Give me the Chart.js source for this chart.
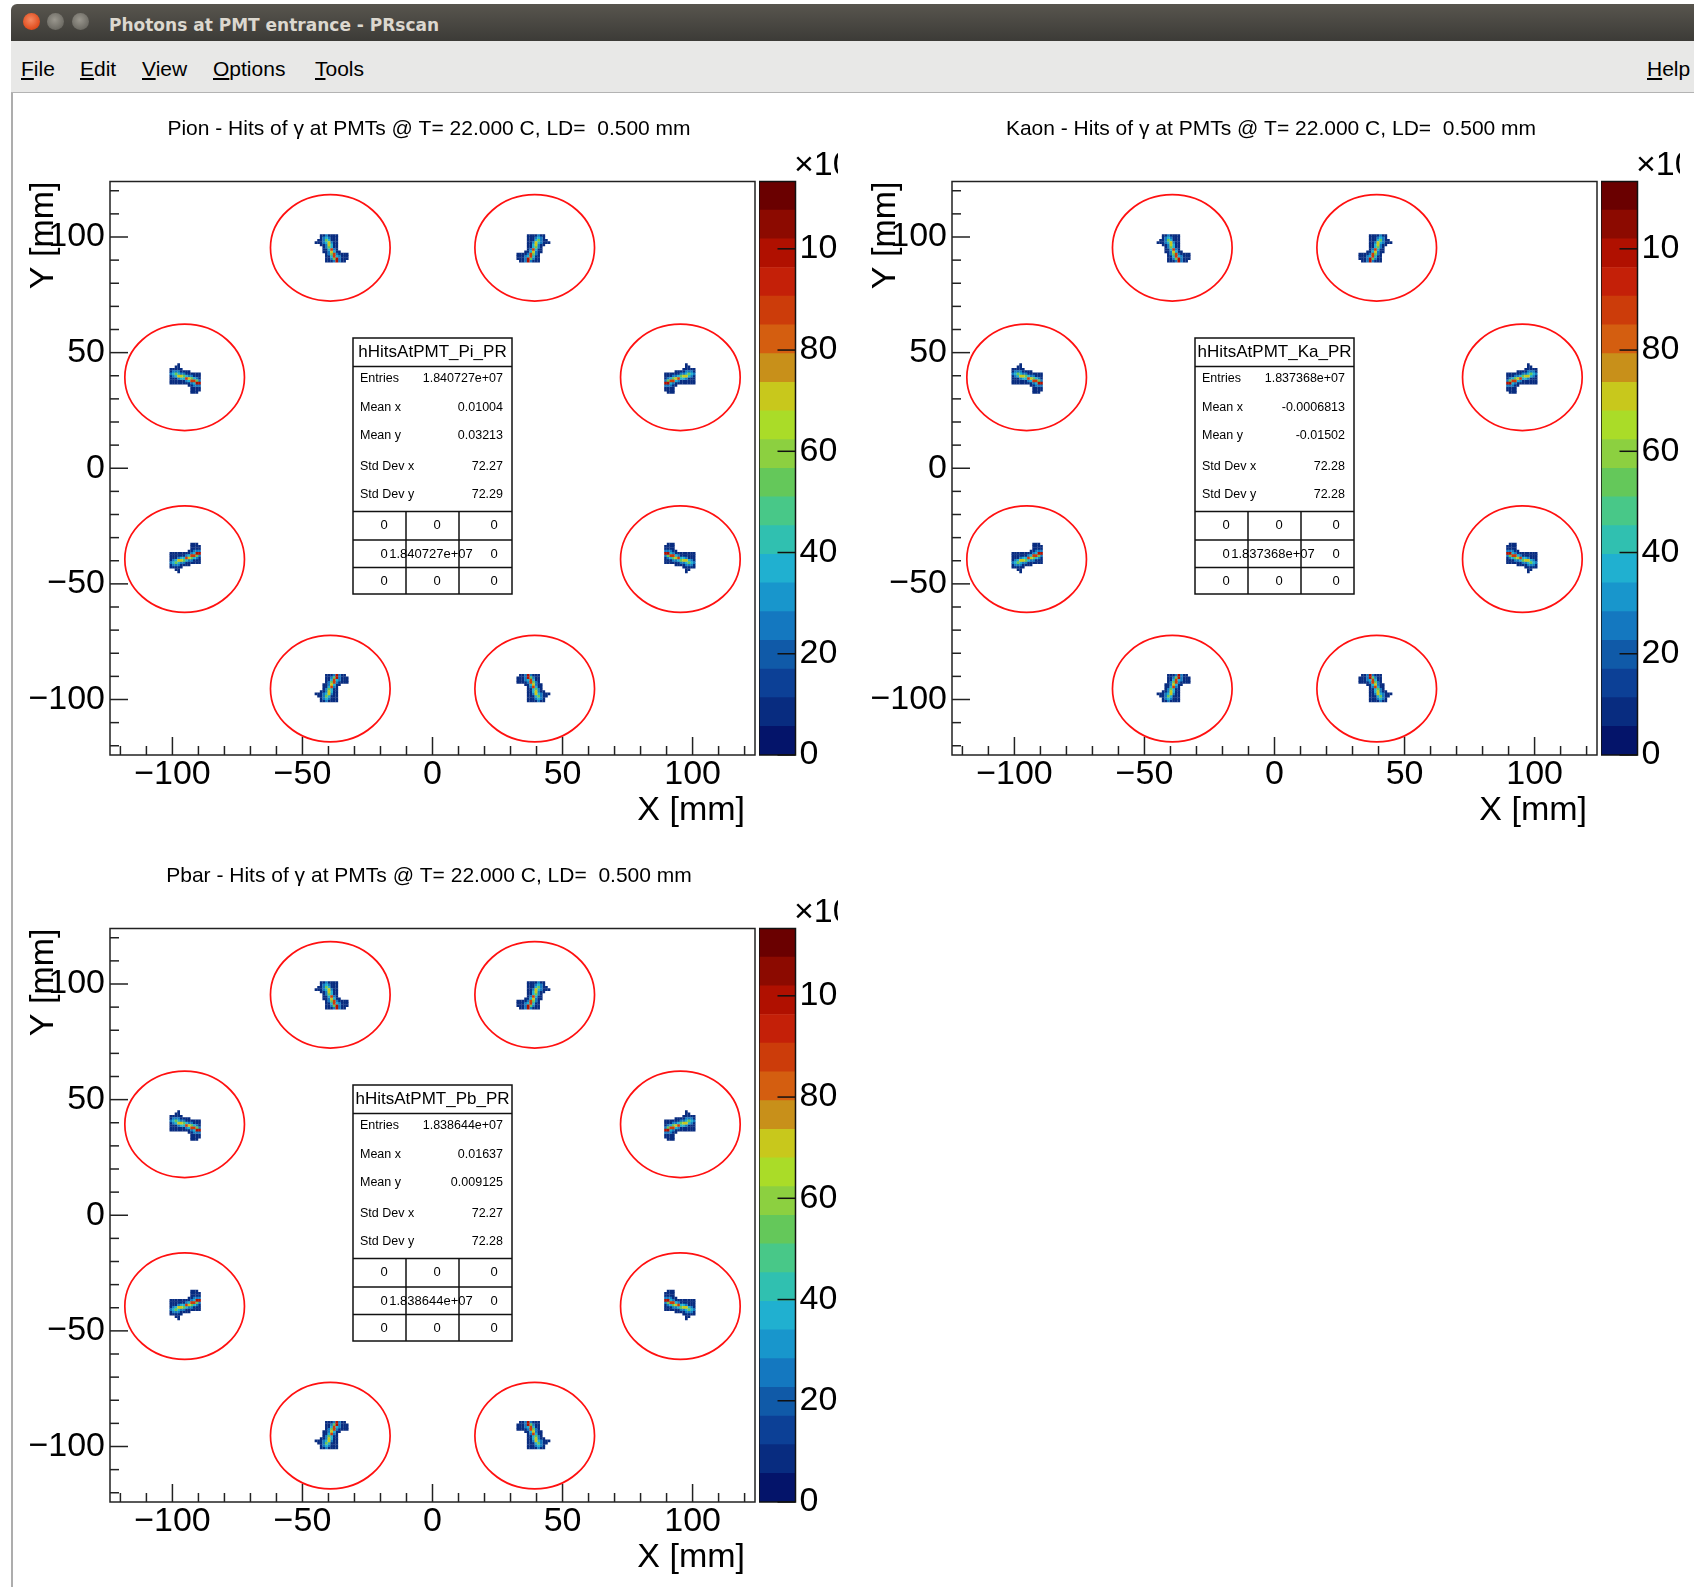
<!DOCTYPE html>
<html>
<head>
<meta charset="utf-8">
<script src="https://cdn.jsdelivr.net/npm/chart.js@4.4.1/dist/chart.umd.min.js"></script>
<style>
  body { margin: 0; width: 1694px; height: 1587px; overflow: hidden; background: #fff; position: relative;
         font-family: "Liberation Sans", Arial, sans-serif; }
  #tbar { position: absolute; left: 11px; top: 4px; width: 1690px; height: 37px;
          border-radius: 6px 6px 0 0; background: linear-gradient(#58554e, #3c3b37); }
  #tbar .b { position: absolute; top: 9px; width: 17px; height: 17px; border-radius: 50%; }
  #tbar .close { left: 12px; background: radial-gradient(circle at 45% 40%, #f58a62, #df4b1c 70%); }
  #tbar .min { left: 36px; background: radial-gradient(circle at 45% 40%, #9a978e, #6d6b64 70%); }
  #tbar .max { left: 61px; background: radial-gradient(circle at 45% 40%, #9a978e, #6d6b64 70%); }
  #tbar .t { position: absolute; left: 98px; top: 11px; font: bold 17px "DejaVu Sans", sans-serif;
             color: #dcd8cf; white-space: nowrap; line-height: 20px; }
  #mbar { position: absolute; left: 11px; top: 41px; width: 1690px; height: 51px; background: #e8e8e7;
          border-bottom: 1px solid #b3b3b3; }
  .menu { position: absolute; top: 57px; font-size: 21px; line-height: 24px; color: #000; white-space: nowrap; }
  #edge { position: absolute; left: 11px; top: 93px; width: 2px; height: 1494px; background: #adadad; }
  canvas { position: absolute; }
</style>
</head>
<body>
<div id="tbar">
  <div class="b close"></div><div class="b min"></div><div class="b max"></div>
  <div class="t">Photons at PMT entrance - PRscan</div>
</div>
<div id="mbar"></div>
<span class="menu" style="left:21px"><u>F</u>ile</span>
<span class="menu" style="left:80px"><u>E</u>dit</span>
<span class="menu" style="left:142px"><u>V</u>iew</span>
<span class="menu" style="left:213px"><u>O</u>ptions</span>
<span class="menu" style="left:315px"><u>T</u>ools</span>
<span class="menu" style="left:1647px"><u>H</u>elp</span>
<div id="edge"></div>

<canvas id="pad0" width="825" height="747" style="left:13px;top:93px"></canvas>
<canvas id="pal0" width="79" height="747" style="left:759px;top:93px"></canvas>
<canvas id="pad1" width="825" height="747" style="left:855px;top:93px"></canvas>
<canvas id="pal1" width="79" height="747" style="left:1601px;top:93px"></canvas>
<canvas id="pad2" width="825" height="747" style="left:13px;top:840px"></canvas>
<canvas id="pal2" width="79" height="747" style="left:759px;top:840px"></canvas>

<script>
Chart.defaults.font.family = '"Liberation Sans", Arial, sans-serif';
Chart.defaults.color = '#000';

// --- data ---
const particles = ['Pion', 'Kaon', 'Pbar'];
const histNames = ['hHitsAtPMT_Pi_PR', 'hHitsAtPMT_Ka_PR', 'hHitsAtPMT_Pb_PR'];
const entries = ['1.840727e+07', '1.837368e+07', '1.838644e+07'];
const meanX = ['0.01004', '-0.0006813', '0.01637'];
const meanY = ['0.03213', '-0.01502', '0.009125'];
const stdDevX = ['72.27', '72.28', '72.27'];
const stdDevY = ['72.29', '72.28', '72.28'];
const statLabels = ['Entries', 'Mean x', 'Mean y', 'Std Dev x', 'Std Dev y'];

// axis range [mm]
const xyMin = -124;
const xyMax = 124;

// PMT centres [mm] and the red acceptance circle radius
const pmtX = [-39.3, 39.3, -95.3, 95.3, -95.3, 95.3, -39.3, 39.3];
const pmtY = [95.3, 95.3, 39.3, 39.3, -39.3, -39.3, -95.3, -95.3];
const pmtRadius = 23;
// how the hit spot is oriented in each PMT: x' = a*dx + b*dy, y' = c*dx + d*dy
const pmtFlip = [
  [1, 0, 0, 1], [-1, 0, 0, 1],
  [0, -1, -1, 0], [0, 1, -1, 0],
  [0, -1, 1, 0], [0, 1, 1, 0],
  [1, 0, 0, -1], [-1, 0, 0, -1]
];
// hit spot, 1 mm bins, top row first ('.' = empty, digit = level in spotLevels)
const spotRows = [
  '...1121111....',
  '...1232111....',
  '..11243111....',
  '.111235211....',
  '...1125311....',
  '....124311....',
  '....113621....',
  '....1125311...',
  '.....124621111',
  '.....113632111',
  '.....112472111',
  '.....11127211.'
];
const spotX0 = -6.5;
const spotY0 = 5.3;
const spotLevels = [0, 8, 26, 38, 55, 68, 85, 100];

// colour palette, 20 contour levels from 0 to zMax (x10^3)
const zMax = 113.3;
const paletteColors = [
  '#04146a', '#082c80', '#0c4096', '#105aa8', '#1478c0', '#1896cc', '#20b0d0', '#30c0b0', '#48c888', '#64c85a',
  '#8cd040', '#aadc28', '#c8c81c', '#c8901a', '#d45e10', '#cc3c0a', '#c42008', '#b01000', '#8c0a00', '#6a0000'
];
const zTicks = [0, 20, 40, 60, 80, 100];
const axisLabels = [-100, -50, 0, 50, 100];

function minusLabel(v) {
  return v < 0 ? '\u2212' + Math.abs(v) : String(v);
}

function zColor(z) {
  const i = Math.min(paletteColors.length - 1, Math.floor(z / (zMax / paletteColors.length)));
  return paletteColors[i];
}

function spotCells() {
  const pts = [];
  pmtX.forEach((cx, k) => {
    const [a, b, c, d] = pmtFlip[k];
    spotRows.forEach((row, r) => {
      for (let i = 0; i < row.length; i++) {
        if (row[i] === '.') continue;
        const dx = spotX0 + i, dy = spotY0 - r;
        pts.push({ x: cx + a * dx + b * dy, y: pmtY[k] + c * dx + d * dy, z: spotLevels[+row[i]] });
      }
    });
  });
  return pts.sort((p, q) => p.z - q.z);
}

function line(ctx, x1, y1, x2, y2) {
  ctx.beginPath(); ctx.moveTo(x1, y1); ctx.lineTo(x2, y2); ctx.stroke();
}

function drawStats(ctx, k) {
  const L = 340, R = 499, T = 245, B = 501;
  ctx.fillStyle = '#fff';
  ctx.fillRect(L, T, R - L, B - T);
  ctx.strokeStyle = '#111';
  ctx.lineWidth = 1.5;
  ctx.strokeRect(L, T, R - L, B - T);
  [273.5, 418.5, 447, 474.5].forEach(h => line(ctx, L, h, R, h));
  [393, 446].forEach(c => line(ctx, c, 418.5, c, B));

  ctx.fillStyle = '#000';
  ctx.textBaseline = 'middle';
  ctx.textAlign = 'center';
  ctx.font = '17px "Liberation Sans"';
  ctx.fillText(histNames[k], (L + R) / 2, 259.5);

  const vals = [entries[k], meanX[k], meanY[k], stdDevX[k], stdDevY[k]];
  const rowsY = [286, 315, 343, 374, 402];
  ctx.font = '12.5px "Liberation Sans"';
  statLabels.forEach((s, i) => {
    ctx.textAlign = 'left';
    ctx.fillText(s, 347, rowsY[i]);
    ctx.textAlign = 'right';
    ctx.fillText(vals[i], 490, rowsY[i]);
  });

  const gridY = [432.5, 461, 488];
  const gridX = [371, 424, 481];
  const cells = [['0', '0', '0'], ['0', entries[k], '0'], ['0', '0', '0']];
  ctx.font = '13px "Liberation Sans"';
  ctx.textAlign = 'center';
  cells.forEach((row, r) => row.forEach((t, c) => {
    const x = t.length > 3 ? 418 : gridX[c];
    ctx.fillText(t, x, gridY[r]);
  }));
}

const rootPad = {
  id: 'rootPad',
  afterDatasetsDraw(chart, args, opts) {
    const { ctx, chartArea: a, scales: { x, y } } = chart;
    ctx.save();

    // pad title
    ctx.fillStyle = '#000';
    ctx.font = '21px "Liberation Sans"';
    ctx.textAlign = 'center';
    ctx.textBaseline = 'middle';
    ctx.fillText(opts.title, 416, 36);

    // PMT circles
    ctx.strokeStyle = '#ff1010';
    ctx.lineWidth = 1.7;
    pmtX.forEach((cx, k) => {
      const px = x.getPixelForValue(cx), py = y.getPixelForValue(pmtY[k]);
      const rx = x.getPixelForValue(cx + pmtRadius) - px;
      const ry = py - y.getPixelForValue(pmtY[k] + pmtRadius);
      ctx.beginPath();
      ctx.ellipse(px, py, rx, ry, 0, 0, Math.PI * 2);
      ctx.stroke();
    });

    // frame and inward ticks
    ctx.strokeStyle = '#222';
    ctx.lineWidth = 1.5;
    ctx.strokeRect(a.left, a.top, a.right - a.left, a.bottom - a.top);
    x.ticks.forEach(t => {
      const len = t.value % 50 === 0 ? 18 : 9;
      const px = x.getPixelForValue(t.value);
      line(ctx, px, a.bottom, px, a.bottom - len);
    });
    y.ticks.forEach(t => {
      const len = t.value % 50 === 0 ? 18 : 9;
      const py = y.getPixelForValue(t.value);
      line(ctx, a.left, py, a.left + len, py);
    });

    // axis titles
    ctx.fillStyle = '#000';
    ctx.font = '34px "Liberation Sans"';
    ctx.textBaseline = 'middle';
    ctx.textAlign = 'right';
    ctx.fillText('X [mm]', a.right - 10, a.bottom + 56);
    ctx.save();
    ctx.translate(31, a.top);
    ctx.rotate(-Math.PI / 2);
    ctx.fillText('Y [mm]', 0, 0);
    ctx.restore();

    drawStats(ctx, opts.k);
    ctx.restore();
  }
};

const paletteAxis = {
  id: 'paletteAxis',
  afterDatasetsDraw(chart) {
    const { ctx, chartArea: a, scales: { y } } = chart;
    ctx.save();
    ctx.strokeStyle = '#111';
    ctx.lineWidth = 1.5;
    ctx.strokeRect(a.left, a.top, a.right - a.left, a.bottom - a.top);
    y.ticks.forEach(t => {
      const py = y.getPixelForValue(t.value);
      line(ctx, a.right, py, a.right - 18, py);
    });
    ctx.fillStyle = '#000';
    ctx.font = '34px "Liberation Sans"';
    ctx.textAlign = 'left';
    ctx.textBaseline = 'middle';
    ctx.fillText('\u00d710\u00b3', 35, 73);
    ctx.restore();
  }
};

const tenSteps = [];
for (let v = -120; v <= 120; v += 10) tenSteps.push(v);

function axisOptions(fit, pad) {
  return {
    type: 'linear',
    min: xyMin,
    max: xyMax,
    grid: { display: false, drawTicks: false },
    border: { display: false },
    afterBuildTicks: s => { s.ticks = tenSteps.map(v => ({ value: v })); },
    afterFit: fit,
    ticks: {
      autoSkip: false,
      maxRotation: 0,
      minRotation: 0,
      padding: pad,
      font: { size: 34, lineHeight: 1 },
      callback: v => axisLabels.includes(v) ? minusLabel(v) : ''
    }
  };
}

particles.forEach((name, k) => {
  new Chart(document.getElementById('pad' + k), {
    type: 'scatter',
    data: {
      datasets: [{
        data: spotCells(),
        pointStyle: 'rect',
        pointRadius: 1.9,
        borderWidth: 0,
        backgroundColor: c => zColor(c.raw ? c.raw.z : 0)
      }]
    },
    options: {
      responsive: false,
      animation: false,
      events: [],
      devicePixelRatio: 1,
      layout: { padding: { left: 0, right: 83, top: 88.5, bottom: 0 } },
      plugins: {
        legend: { display: false },
        tooltip: { enabled: false },
        rootPad: { k: k, title: name + ' - Hits of \u03b3 at PMTs @ T= 22.000 C, LD=  0.500 mm' }
      },
      scales: {
        x: axisOptions(s => { s.height = 85; }, 3),
        y: axisOptions(s => { s.width = 97; }, 5)
      }
    },
    plugins: [rootPad]
  });

  new Chart(document.getElementById('pal' + k), {
    type: 'bar',
    data: {
      labels: ['z'],
      datasets: paletteColors.map(c => ({
        data: [zMax / paletteColors.length],
        backgroundColor: c,
        borderWidth: 0,
        barPercentage: 1,
        categoryPercentage: 1
      }))
    },
    options: {
      responsive: false,
      animation: false,
      events: [],
      devicePixelRatio: 1,
      layout: { padding: { left: 0, right: 0, top: 88.5, bottom: 85 } },
      plugins: { legend: { display: false }, tooltip: { enabled: false } },
      scales: {
        x: { stacked: true, display: false, offset: true },
        y: {
          stacked: true,
          position: 'right',
          min: 0,
          max: zMax,
          grid: { display: false, drawTicks: false },
          border: { display: false },
          afterBuildTicks: s => { s.ticks = zTicks.map(v => ({ value: v })); },
          afterFit: s => { s.width = 42.5; },
          ticks: { padding: 4, font: { size: 34, lineHeight: 1 }, callback: v => String(v) }
        }
      }
    },
    plugins: [paletteAxis]
  });
});
</script>
</body>
</html>
